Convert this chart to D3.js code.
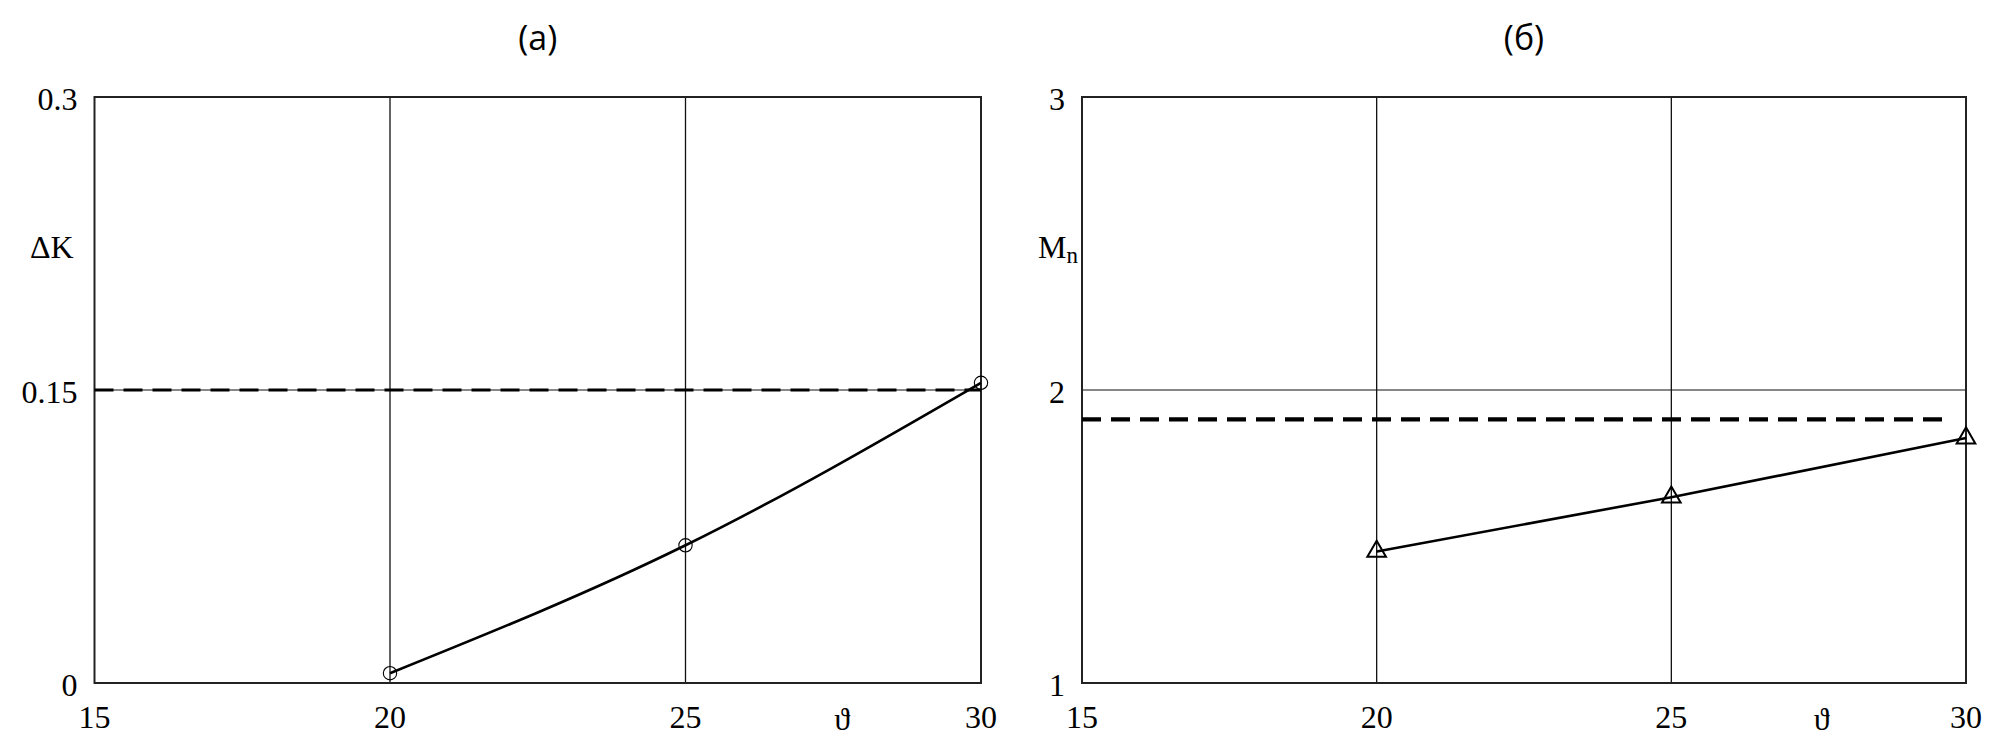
<!DOCTYPE html>
<html>
  <head>
    <meta charset="utf-8">
    <script src="https://d3js.org/d3.v7.min.js"></script>
    <style>
      body { margin:0; background:#fff; }
      svg { display:block; }
      .tick-label { font-family:"Liberation Serif", "Times New Roman", serif; font-size:32px; fill:#000; }
      .title { font-family:"Open Sans", "Noto Sans", sans-serif; font-size:34px; fill:#000; }
    </style>
  </head>
  <body>
    <script>

    // shared x axis (angle)
    var xTicks = [15, 20, 25, 30];
    var xGrid = [20, 25];

    // panel (a): delta K
    var thetaA = [20, 25, 30];
    var deltaK = [0.005, 0.0705, 0.1537];
    var limitA = 0.15;
    var yTicksA = [0, 0.15, 0.3];
    var yLabelsA = ["0", "0.15", "0.3"];

    // panel (б): Mn
    var thetaB = [20, 25, 30];
    var mn = [1.449, 1.634, 1.836];
    var limitB = 1.9;
    var yTicksB = [1, 2, 3];
    var yLabelsB = ["1", "2", "3"];

    var width = 2006, height = 754;

    var svg = d3.select("body").append("svg")
        .attr("width", width)
        .attr("height", height);

    // draw one panel
    function panel(opt) {
      var x = d3.scaleLinear().domain([15, 30]).range([opt.left, opt.right]);
      var y = d3.scaleLinear().domain(opt.yDomain).range([683, 97]);
      var g = svg.append("g");

      // title
      g.append("text").attr("class", "title")
        .attr("x", (opt.left + opt.right) / 2).attr("y", 50)
        .attr("text-anchor", "middle")
        .text(opt.title);

      // vertical grid
      g.selectAll(".vgrid").data(xGrid).enter().append("line")
        .attr("x1", d => x(d)).attr("x2", d => x(d))
        .attr("y1", y.range()[1]).attr("y2", y.range()[0])
        .attr("stroke", "#111").attr("stroke-width", 1.3);

      // horizontal grid at middle tick
      g.append("line")
        .attr("x1", opt.left).attr("x2", opt.right)
        .attr("y1", y(opt.yTicks[1])).attr("y2", y(opt.yTicks[1]))
        .attr("stroke", "#111").attr("stroke-width", 1.2);

      // frame
      g.append("rect")
        .attr("x", opt.left).attr("y", y.range()[1])
        .attr("width", opt.right - opt.left)
        .attr("height", y.range()[0] - y.range()[1])
        .attr("fill", "none").attr("stroke", "#222").attr("stroke-width", 2);

      // dashed limit
      g.append("line")
        .attr("x1", opt.left).attr("x2", x(opt.dashEnd))
        .attr("y1", y(opt.limit)).attr("y2", y(opt.limit))
        .attr("stroke", "#000").attr("stroke-width", opt.dashWidth)
        .attr("stroke-dasharray", "19,10");

      // data curve
      var pts = opt.xs.map((d, i) => [d, opt.ys[i]]);
      g.append("path")
        .datum(pts)
        .attr("fill", "none").attr("stroke", "#000").attr("stroke-width", 2.6)
        .attr("d", d3.line().x(d => x(d[0])).y(d => y(d[1])).curve(d3.curveNatural));

      // markers
      g.selectAll(".mark").data(pts).enter().append("path")
        .attr("transform", d => "translate(" + x(d[0]) + "," + y(d[1]) + ")")
        .attr("d", d3.symbol().type(opt.symbol).size(opt.symbolSize))
        .attr("fill", "none").attr("stroke", "#000").attr("stroke-width", opt.symbolStroke);

      // x tick labels
      g.selectAll(".xl").data(xTicks).enter().append("text")
        .attr("class", "tick-label")
        .attr("x", d => x(d)).attr("y", 728)
        .attr("text-anchor", "middle")
        .text(d => d);

      // y tick labels
      g.selectAll(".yl").data(opt.yTicks).enter().append("text")
        .attr("class", "tick-label")
        .attr("x", opt.left - 17).attr("y", d => y(d) + 13)
        .attr("text-anchor", "end")
        .text((d, i) => opt.yLabels[i]);

      // x axis name
      g.append("text").attr("class", "tick-label")
        .attr("x", x(opt.thetaPos)).attr("y", 730)
        .attr("font-size", 36)
        .attr("text-anchor", "middle")
        .text("\u03D1");

      // y axis name
      var yn = g.append("text").attr("class", "tick-label")
        .attr("x", opt.nameX).attr("y", 258)
        .attr("font-size", 34);
      yn.append("tspan").text(opt.yName);
      if (opt.ySub) {
        yn.append("tspan").attr("dy", 5).attr("font-size", 23).text(opt.ySub);
      }
    }

    panel({
      title: "(a)", left: 94.5, right: 981,
      yDomain: [0, 0.3], yTicks: yTicksA, yLabels: yLabelsA,
      xs: thetaA, ys: deltaK, limit: limitA, dashEnd: 30, dashWidth: 3.2,
      symbol: d3.symbolCircle, symbolSize: 140, symbolStroke: 1.1,
      thetaPos: 27.65, nameX: 30, yName: "\u0394K"
    });

    panel({
      title: "(\u0431)", left: 1082, right: 1966,
      yDomain: [1, 3], yTicks: yTicksB, yLabels: yLabelsB,
      xs: thetaB, ys: mn, limit: limitB, dashEnd: 29.63, dashWidth: 4.2,
      symbol: d3.symbolTriangle, symbolSize: 150, symbolStroke: 2,
      thetaPos: 27.55, nameX: 1038, yName: "M", ySub: "n"
    });

    </script>
  </body>
</html>
